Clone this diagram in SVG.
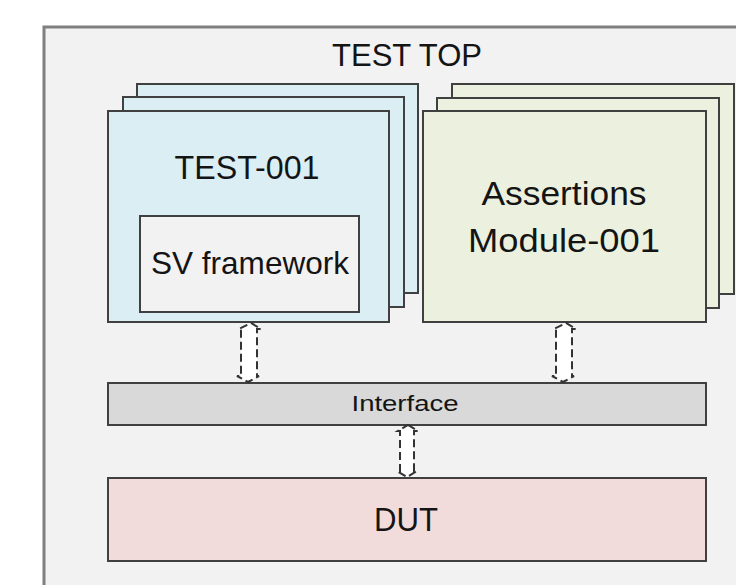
<svg xmlns="http://www.w3.org/2000/svg" width="736" height="585" viewBox="0 0 736 585">
<style>
.box{stroke:#404040;stroke-width:2}
.blue{fill:#daeef3}
.green{fill:#ebf1de}
.txt{font-family:"Liberation Sans",Arial,sans-serif;fill:#141414;text-anchor:middle}
.arrow{fill:#ffffff;stroke:#333333;stroke-width:2;stroke-dasharray:8 4}
</style>
<rect width="736" height="585" fill="#ffffff"/>
<g id="test-top">
<rect x="44" y="27" width="720" height="600" fill="#f2f2f2" stroke="#7f7f7f" stroke-width="3"/>
<text class="txt" x="407" y="66" font-size="31" textLength="150" lengthAdjust="spacingAndGlyphs">TEST TOP</text>
</g>
<g id="test-001">
<rect class="box blue" x="137" y="84" width="281" height="209"/>
<rect class="box blue" x="123" y="97" width="281" height="210"/>
<rect class="box blue" x="108" y="111" width="281" height="211"/>
<text class="txt" x="247" y="179" font-size="33" textLength="145" lengthAdjust="spacingAndGlyphs">TEST-001</text>
</g>
<g id="sv-framework">
<rect class="box" x="140" y="216" width="219" height="96" fill="#f2f2f2"/>
<text class="txt" x="250" y="274" font-size="32" textLength="198" lengthAdjust="spacingAndGlyphs">SV framework</text>
</g>
<g id="assertions">
<rect class="box green" x="452" y="84" width="282" height="210"/>
<rect class="box green" x="437" y="98" width="282" height="210"/>
<rect class="box green" x="423" y="111" width="283" height="211"/>
<text class="txt" x="564" y="205" font-size="33" textLength="165" lengthAdjust="spacingAndGlyphs">Assertions</text>
<text class="txt" x="564" y="252" font-size="33" textLength="192" lengthAdjust="spacingAndGlyphs">Module-001</text>
</g>
<g id="interface">
<rect class="box" x="108" y="383" width="598" height="42" fill="#d9d9d9"/>
<text class="txt" x="405" y="411" font-size="22" textLength="107" lengthAdjust="spacingAndGlyphs">Interface</text>
</g>
<g id="dut">
<rect class="box" x="108" y="478" width="598" height="83" fill="#f2dcdb"/>
<text class="txt" x="406" y="531" font-size="34" textLength="64" lengthAdjust="spacingAndGlyphs">DUT</text>
</g>
<g id="connectors">
<path class="arrow" d="M251,323 L261,329 L257,329 L257,376 L259,376 L248,382 L237,376 L241,376 L241,329 L239,329 Z"/>
<path class="arrow" d="M566,323 L576,329 L572,329 L572,376 L574,376 L563,382 L552,376 L556,376 L556,329 L554,329 Z"/>
<path class="arrow" d="M408,425 L418,431 L414,431 L414,471 L417,471 L407,477 L397,471 L400,471 L400,431 L398,431 Z"/>
</g>
</svg>
